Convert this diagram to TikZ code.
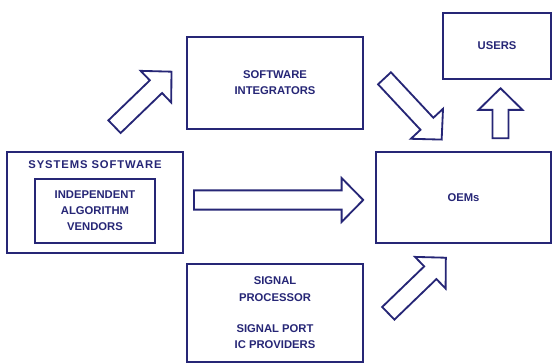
\documentclass[tikz,border=0pt]{standalone}
\usepackage{fontspec}
\setmainfont{Liberation Sans}
\usepackage{tikz}

\definecolor{navy}{RGB}{38,38,118}

% outlined block arrow: [shaft half width] tail, angle, length
\newcommand{\fatarrow}[4][0.22]{%
    \draw [fatline, shift = {(#2)}, rotate = #3] (0,-#1) -- (#4-0.54,-#1) -- (#4-0.54,-0.55) -- (#4,0) -- (#4-0.54,0.55) -- (#4-0.54,#1) -- (0,#1) -- cycle;
}

\tikzset{
    box/.style = {draw = navy, line width = 1.6pt, rectangle, align = center, text = navy, inner sep = 0pt},
    fatline/.style = {draw = navy, line width = 1.3pt, line join = miter, fill = white},
    boxfont/.style = {font = \fontsize{8}{11.5}\selectfont\bfseries}
}

\begin{document}
\begin{tikzpicture}[boxfont]
            \useasboundingbox [fill = white] (0,0) rectangle (13.8,9.1);

            \node [box, minimum width = 4.4cm, minimum height = 2.525cm] (systems) at (2.375,4.0375) {};
            \node [text = navy, inner sep = 0pt] (systitle) at (2.375,4.975) {\addfontfeature{LetterSpace=8}SYSTEMS SOFTWARE};
            \node [box, minimum width = 3cm, minimum height = 1.6cm] (vendors) at (2.375,3.825) {INDEPENDENT\\ALGORITHM\\VENDORS};
            \node [box, minimum width = 4.4cm, minimum height = 2.3cm] (integrators) at (6.875,7.025) {SOFTWARE\\INTEGRATORS};
            \node [box, minimum width = 4.4cm, minimum height = 2.45cm] (processor) at (6.875,1.275) {SIGNAL\\PROCESSOR\\[11pt]SIGNAL PORT\\IC PROVIDERS};
            \node [box, minimum width = 2.7cm, minimum height = 1.65cm] (users) at (12.425,7.95) {USERS};
            \node [box, minimum width = 4.375cm, minimum height = 2.275cm] (oems) at (11.5875,4.1625) {OEMs};

            \coordinate (sysup) at (2.8625,5.9325);
            \coordinate (intdown) at (9.6125,7.1425);
            \coordinate (sysright) at (4.85,4.1);
            \coordinate (procup) at (9.7075,1.2675);
            \coordinate (oemup) at (12.5125,5.6425);

            \fatarrow{sysup}{44}{1.98}
            \fatarrow{intdown}{-47}{2.095}
            \fatarrow[0.24]{sysright}{0}{4.23}
            \fatarrow{procup}{44}{2.0}
            \fatarrow[0.2]{oemup}{90}{1.25}
        \end{tikzpicture}
\end{document}
